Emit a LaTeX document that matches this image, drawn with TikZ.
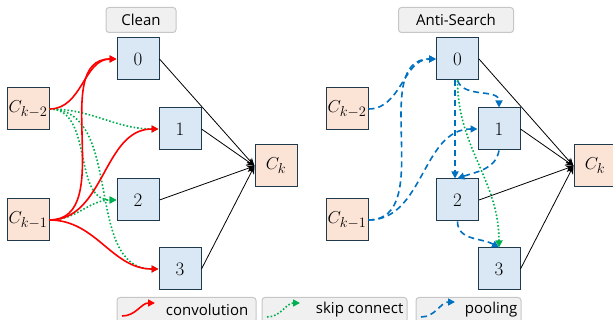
\documentclass[tikz,border=0pt]{standalone}
\usepackage{fontspec}
\setsansfont{Open Sans}
\usetikzlibrary{arrows.meta}
\DeclareMathSizes{19}{19}{15}{11}
\definecolor{cellblue}{HTML}{DAE8F6}
\definecolor{cellpeach}{HTML}{FBE3D6}
\definecolor{cellborder}{HTML}{1E3A4C}
\definecolor{convred}{HTML}{FF0000}
\definecolor{skipgreen}{HTML}{00B050}
\definecolor{poolblue}{HTML}{0070C0}
\begin{document}
\begin{tikzpicture}[x=1pt, y=1pt,
        op/.style={draw=cellborder, line width=1pt, fill=cellblue, minimum size=42pt, inner sep=0pt, font=\fontsize{19}{19}\selectfont},
        cell/.style={draw=cellborder, line width=1pt, fill=cellpeach, minimum size=42pt, inner sep=0pt, font=\fontsize{19}{19}\selectfont},
        title/.style={draw=gray!45, line width=1pt, fill=gray!12, rounded corners=3pt, minimum height=25pt, inner sep=0pt, font=\sffamily\fontsize{15}{15}\selectfont},
        legend text/.style={anchor=east, inner sep=0pt, font=\sffamily\fontsize{15}{15}\selectfont},
        conv edge/.style={draw=convred, line width=1.6pt, -{Triangle[length=7pt, width=7pt]}},
        skip edge/.style={draw=skipgreen, line width=1.6pt, dotted, -{Triangle[length=7pt, width=7pt]}},
        pool edge/.style={draw=poolblue, line width=1.6pt, dash pattern=on 6pt off 4pt, -{Triangle[length=7pt, width=7pt]}},
        out edge/.style={draw=black, line width=0.8pt, -{Stealth[length=8pt, width=7pt]}}
    ]
	\useasboundingbox (0,0) rectangle (613,-320);
	\node[title, minimum width=70pt] (t_clean) at (141,-20) {Clean};
	\node[title, minimum width=115pt] (t_anti) at (456,-20) {Anti-Search};
	\node[op] (l_0) at (138,-59) {0};
	\node[op] (l_1) at (180,-129) {1};
	\node[op] (l_2) at (138,-200) {2};
	\node[op] (l_3) at (180,-269) {3};
	\node[cell] (l_km2) at (28,-109) {$C_{k-2}$};
	\node[cell] (l_km1) at (28,-220) {$C_{k-1}$};
	\node[cell] (l_k) at (276,-166) {$C_{k}$};
	\node[op] (r_0) at (457.5,-59) {0};
	\node[op] (r_1) at (499,-129) {1};
	\node[op] (r_2) at (457.5,-200) {2};
	\node[op] (r_3) at (499,-269) {3};
	\node[cell] (r_km2) at (347,-109) {$C_{k-2}$};
	\node[cell] (r_km1) at (347,-220) {$C_{k-1}$};
	\node[cell] (r_k) at (595,-166) {$C_{k}$};
	\draw[out edge] (l_0.east) -- (l_k.west);
	\draw[out edge] (l_1.east) -- (l_k.west);
	\draw[out edge] (l_2.east) -- (l_k.west);
	\draw[out edge] (l_3.east) -- (l_k.west);
	\draw[out edge] (r_0.east) -- (r_k.west);
	\draw[out edge] (r_1.east) -- (r_k.west);
	\draw[out edge] (r_2.east) -- (r_k.west);
	\draw[out edge] (r_3.east) -- (r_k.west);
	% clean cell
	\draw[skip edge] (l_km2.east) to[out=0, in=180] (l_1.west);
	\draw[skip edge] (l_km2.east) to[out=0, in=180] (l_2.west);
	\draw[skip edge] (l_km2.east) to[out=0, in=180] (l_3.west);
	\draw[skip edge] (l_km1.east) to[out=0, in=180] (l_2.west);
	\draw[conv edge] (l_km2.east) to[out=0, in=180] (l_0.west);
	\draw[conv edge] (l_km1.east) to[out=0, in=180] (l_0.west);
	\draw[conv edge] (l_km1.east) to[out=0, in=180] (l_1.west);
	\draw[conv edge] (l_km1.east) to[out=0, in=180] (l_3.west);
	% anti-search cell
	\draw[pool edge] (r_km2.east) to[out=0, in=180] (r_0.west);
	\draw[pool edge] (r_km1.east) to[out=0, in=180] (r_0.west);
	\draw[pool edge] (r_km1.east) to[out=0, in=180] (r_1.west);
	\draw[pool edge] (r_0.south) to[out=-70, in=90] (r_1.north);
	\draw[pool edge] ([xshift=-2.5pt]r_0.south) -- ([xshift=-2.5pt]r_2.north);
	\draw[pool edge] (r_1.south) to[out=-100, in=20] (r_2.north);
	\draw[pool edge] (r_2.south) to[out=-90, in=150] (r_3.north);
	\draw[skip edge] (r_0.south) to[out=-90, in=90] (r_3.north);
	% legend
	\node[title, minimum width=139pt] (leg_conv) at (186.5,-310) {};
	\node[title, minimum width=145pt] (leg_skip) at (334.5,-310) {};
	\node[title, minimum width=105pt] (leg_pool) at (468.5,-310) {};
	\node[legend text] at ([xshift=-8pt]leg_conv.east) {convolution};
	\node[legend text] at ([xshift=-4pt]leg_skip.east) {skip connect};
	\node[legend text] at ([xshift=-4pt]leg_pool.east) {pooling};
	\coordinate (conv_a) at (122,-316);
	\coordinate (conv_b) at (155,-303);
	\coordinate (skip_a) at (267,-317);
	\coordinate (skip_b) at (300,-303);
	\coordinate (pool_a) at (421,-317);
	\coordinate (pool_b) at (455,-302);
	\draw[conv edge] (conv_a) to[out=0, in=180] (conv_b);
	\draw[skip edge] (skip_a) to[out=0, in=180] (skip_b);
	\draw[pool edge] (pool_a) to[out=0, in=180] (pool_b);
    \end{tikzpicture}
\end{document}
